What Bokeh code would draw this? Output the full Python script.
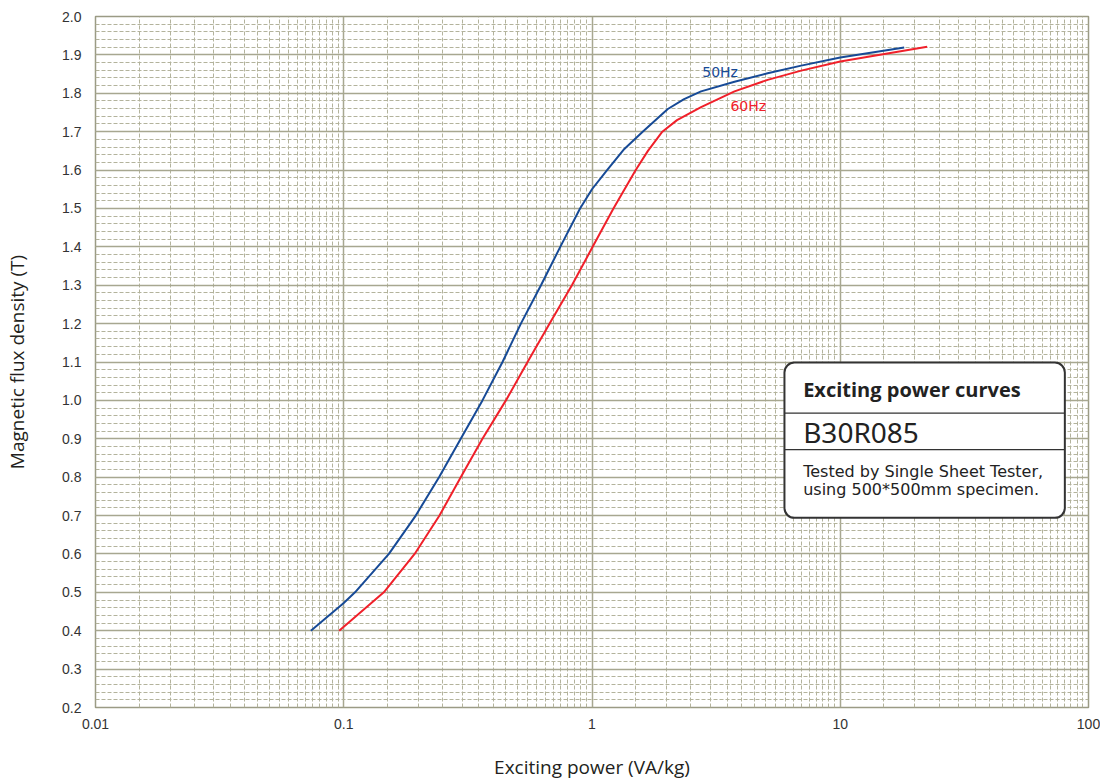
from bokeh.plotting import figure
from bokeh.models import (Range1d, FixedTicker, CustomJSTickFormatter, PrintfTickFormatter,
                          BoxAnnotation, Label)
from bokeh.embed import file_html
from bokeh.resources import INLINE

# ---- data ----
b50_x = [0.0737, 0.1, 0.111, 0.152, 0.195, 0.242, 0.296, 0.362, 0.436, 0.517, 0.623, 0.745,
         0.895, 1.0, 1.15, 1.35, 1.60, 2.02, 2.35, 2.75, 3.75, 5.1, 6.96, 10.0, 18.1]
b50_y = [0.40, 0.472, 0.50, 0.60, 0.70, 0.80, 0.90, 1.00, 1.10, 1.20, 1.30, 1.40,
         1.50, 1.55, 1.60, 1.655, 1.70, 1.759, 1.785, 1.805, 1.830, 1.852, 1.872, 1.893, 1.919]
b60_x = [0.0958, 0.145, 0.193, 0.243, 0.296, 0.362, 0.45, 0.55, 0.675, 0.83, 1.006, 1.22,
         1.50, 1.68, 1.92, 2.2, 2.75, 3.75, 5.1, 6.96, 10.0, 22.4]
b60_y = [0.40, 0.50, 0.60, 0.70, 0.80, 0.90, 1.00, 1.10, 1.20, 1.30, 1.40, 1.50,
         1.60, 1.65, 1.70, 1.73, 1.764, 1.805, 1.835, 1.859, 1.883, 1.921]
x_ticks = [0.01, 0.1, 1, 10, 100]
y_ticks = [round(0.2 + 0.1 * i, 1) for i in range(19)]
series_names = ["50Hz", "60Hz"]

x_minor = [round(m * d, 6) for d in [0.01, 0.1, 1, 10] for m in [1 + 0.5 * k for k in range(1, 18)]]
y_minor = [round(0.2 + 0.02 * i, 2) for i in range(91)]

BLUE = "#174a96"
RED = "#f0202a"
MAJ = "#a7a790"
MIN = "#b3b39c"

p = figure(width=1100, height=782, x_axis_type="log", output_backend="svg",
           toolbar_location=None, x_range=Range1d(0.01, 100), y_range=Range1d(0.2, 2.0),
           min_border_left=95, min_border_right=12, min_border_top=16, min_border_bottom=69)
p.background_fill_color = "white"
p.border_fill_color = "white"
p.outline_line_color = "#9b9b85"
p.outline_line_width = 1.5

p.xaxis.ticker = FixedTicker(ticks=x_ticks, minor_ticks=[])
p.yaxis.ticker = FixedTicker(ticks=y_ticks, minor_ticks=[])
p.xgrid.ticker = FixedTicker(ticks=x_ticks, minor_ticks=x_minor)
p.ygrid.ticker = FixedTicker(ticks=y_ticks, minor_ticks=y_minor)
for g in (p.xgrid, p.ygrid):
    g.grid_line_color = MAJ
    g.grid_line_width = 1.5
    g.minor_grid_line_color = MIN
    g.minor_grid_line_width = 1
    g.minor_grid_line_dash = "4 2"

p.xaxis.formatter = CustomJSTickFormatter(code="return tick.toString();")
p.yaxis.formatter = PrintfTickFormatter(format="%.1f")
for ax in (p.xaxis, p.yaxis):
    ax.axis_line_color = None
    ax.major_tick_line_color = None
    ax.minor_tick_line_color = None
    ax.major_label_text_font = "Liberation Sans"
    ax.major_label_text_font_size = "14px"
    ax.major_label_text_color = "#333333"
    ax.axis_label_text_font = "Open Sans"
    ax.axis_label_text_font_size = "19px"
    ax.axis_label_text_font_style = "normal"
    ax.axis_label_text_color = "#231f20"
p.xaxis.major_label_standoff = 5
p.yaxis.major_label_standoff = 8
p.xaxis.axis_label = "Exciting power (VA/kg)"
p.yaxis.axis_label = "Magnetic flux density (T)"
p.xaxis.axis_label_standoff = 22
p.yaxis.axis_label_standoff = 29

p.line(b50_x, b50_y, line_color=BLUE, line_width=2)
p.line(b60_x, b60_y, line_color=RED, line_width=2)

p.add_layout(Label(x=3.28, y=1.855, text=series_names[0], text_color=BLUE,
                   text_font="DejaVu Sans", text_font_size="14px",
                   text_align="center", text_baseline="middle"))
p.add_layout(Label(x=4.26, y=1.768, text=series_names[1], text_color=RED,
                   text_font="DejaVu Sans", text_font_size="14px",
                   text_align="center", text_baseline="middle"))

# info box
bl, br, bt, bb = 5.96, 80.3, 1.0987, 0.694
p.add_layout(BoxAnnotation(left=bl, right=br, top=bt, bottom=bb, fill_color="white", fill_alpha=1,
                           line_color="#333333", line_alpha=1, line_width=2, border_radius=10))
for yd in (0.967, 0.872):
    p.add_layout(BoxAnnotation(left=bl, right=br, top=yd, bottom=yd, fill_alpha=0,
                               line_color="#333333", line_alpha=1, line_width=1.2))
tx = 7.09
p.add_layout(Label(x=tx, y=1.029, text="Exciting power curves", text_font="Open Sans",
                   text_font_style="bold", text_font_size="20px", text_color="#222222",
                   text_baseline="middle"))
p.add_layout(Label(x=tx, y=0.918, text="B30R085", text_font="Noto Sans",
                   text_font_size="28px", text_color="#222222", text_baseline="middle"))
p.add_layout(Label(x=tx, y=0.8146, text="Tested by Single Sheet Tester,", text_font="DejaVu Sans",
                   text_font_size="16px", text_color="#222222", text_baseline="middle"))
p.add_layout(Label(x=tx, y=0.768, text="using 500*500mm specimen.", text_font="DejaVu Sans",
                   text_font_size="16px", text_color="#222222", text_baseline="middle"))

open("out.html", "w").write(file_html(p, INLINE))
